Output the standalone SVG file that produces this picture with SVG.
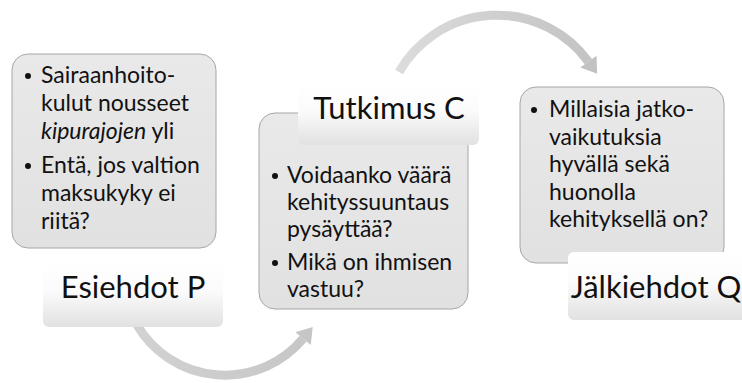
<svg xmlns="http://www.w3.org/2000/svg" width="742" height="383" viewBox="0 0 742 383">
  <defs>
    <linearGradient id="labelFill" x1="0" y1="0" x2="0" y2="1">
      <stop offset="0" stop-color="#ffffff"/>
      <stop offset="0.45" stop-color="#fbfbfb"/>
      <stop offset="1" stop-color="#e1e1e1"/>
    </linearGradient>
    <linearGradient id="boxFill" x1="0" y1="0" x2="0" y2="1">
      <stop offset="0" stop-color="#e9e9e9"/>
      <stop offset="1" stop-color="#e1e1e1"/>
    </linearGradient>
    <linearGradient id="arcTop" gradientUnits="userSpaceOnUse" x1="395" y1="0" x2="600" y2="0">
      <stop offset="0" stop-color="#dcdcdc"/>
      <stop offset="1" stop-color="#c2c2c2"/>
    </linearGradient>
    <linearGradient id="arcBottom" gradientUnits="userSpaceOnUse" x1="130" y1="0" x2="318" y2="0">
      <stop offset="0" stop-color="#d2d2d2"/>
      <stop offset="1" stop-color="#c6c6c6"/>
    </linearGradient>
  </defs>
  <style>
    .box { fill: url(#boxFill); stroke: #a6a6a6; stroke-width: 1; }
    .label { fill: url(#labelFill); }
    .body { font-family: Lato, "Open Sans", "Liberation Sans", sans-serif; font-size: 23px; fill: #111111; }
    .title { font-family: Lato, "Open Sans", "Liberation Sans", sans-serif; font-size: 31px; fill: #111111; text-anchor: middle; }
    .dot { fill: #111111; }
    .arc { fill: none; stroke-width: 9; }
  </style>

  <!-- curved connectors between the stages -->
  <g id="connectors">
    <path class="arc" d="M 399 72 A 113 113 0 0 1 588.4 61.6" stroke="url(#arcTop)"/>
    <polygon points="597.2,73.7 596.5,55.7 580.3,67.5" fill="#c2c2c2"/>
    <path class="arc" d="M 137 325 A 102 102 0 0 0 303.1 338.6" stroke="url(#arcBottom)"/>
    <polygon points="312.7,327.1 310.8,345 295.4,332.2" fill="#c6c6c6"/>
  </g>

  <!-- stage P -->
  <g id="esiehdot">
    <rect class="box" x="12" y="54" width="204" height="194" rx="16"/>
    <circle class="dot" cx="28" cy="76" r="3"/>
    <circle class="dot" cx="28" cy="166" r="3"/>
    <text class="body">
      <tspan x="41" y="83">Sairaanhoito-</tspan>
      <tspan x="41" y="111">kulut nousseet</tspan>
      <tspan x="41" y="139"><tspan font-style="italic">kipurajojen</tspan> yli</tspan>
      <tspan x="41" y="173">Entä, jos valtion</tspan>
      <tspan x="41" y="201">maksukyky ei</tspan>
      <tspan x="41" y="229">riitä?</tspan>
    </text>
    <rect class="label" x="43" y="262" width="180" height="65" rx="6"/>
    <text class="title" x="133" y="298">Esiehdot P</text>
  </g>

  <!-- stage C -->
  <g id="tutkimus">
    <rect class="box" x="259" y="113" width="209" height="196" rx="16"/>
    <circle class="dot" cx="275" cy="176" r="3"/>
    <circle class="dot" cx="275" cy="263" r="3"/>
    <text class="body">
      <tspan x="287" y="183">Voidaanko väärä</tspan>
      <tspan x="287" y="210">kehityssuuntaus</tspan>
      <tspan x="287" y="237">pysäyttää?</tspan>
      <tspan x="287" y="270">Mikä on ihmisen</tspan>
      <tspan x="287" y="297">vastuu?</tspan>
    </text>
    <rect class="label" x="298" y="83" width="181" height="62" rx="6"/>
    <text class="title" x="389" y="119">Tutkimus C</text>
  </g>

  <!-- stage Q -->
  <g id="jalkiehdot">
    <rect class="box" x="520" y="87" width="204" height="176" rx="16"/>
    <circle class="dot" cx="534" cy="110" r="3"/>
    <text class="body">
      <tspan x="549" y="117">Millaisia jatko-</tspan>
      <tspan x="549" y="145">vaikutuksia</tspan>
      <tspan x="549" y="172">hyvällä sekä</tspan>
      <tspan x="549" y="200">huonolla</tspan>
      <tspan x="549" y="227">kehityksellä on?</tspan>
    </text>
    <rect class="label" x="568" y="252" width="178" height="68" rx="6"/>
    <text class="title" x="656" y="298">Jälkiehdot Q</text>
  </g>
</svg>
